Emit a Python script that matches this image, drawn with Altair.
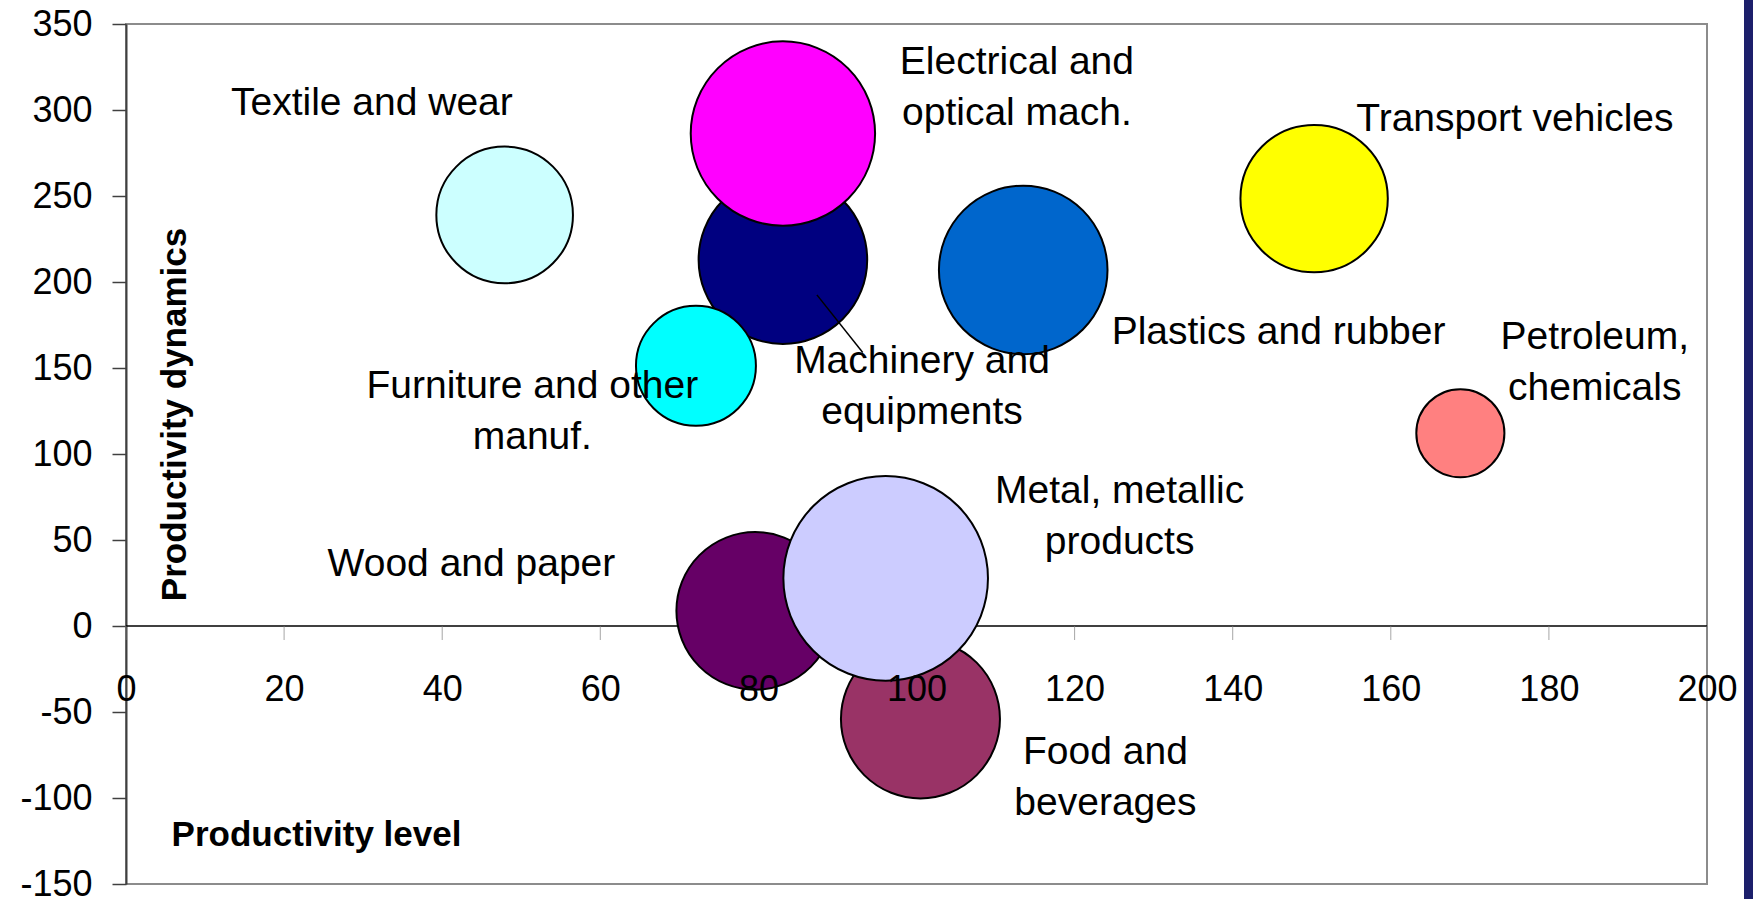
import altair as alt
import pandas as pd

# ---- data ----
sectors = [
    "Machinery and equipments", "Electrical and optical mach.", "Furniture and other manuf.",
    "Textile and wear", "Plastics and rubber", "Transport vehicles", "Petroleum, chemicals",
    "Wood and paper", "Food and beverages", "Metal, metallic products",
]
level = [83.1, 83.1, 72.1, 47.9, 113.5, 150.3, 168.8, 79.6, 100.5, 96.1]
dynamics = [213.0, 286.3, 151.3, 239.0, 207.0, 248.5, 112.1, 8.8, -54.0, 27.7]
bubble = [72.5, 86.7, 36.7, 47.6, 72.5, 55.4, 19.8, 63.4, 64.5, 106.8]
colors = ["#000080", "#FF00FF", "#00FFFF", "#CCFFFF", "#0066CC",
          "#FFFF00", "#FF8080", "#660066", "#993366", "#CCCCFF"]

label_text = [
    "Machinery and\nequipments", "Electrical and\noptical mach.", "Furniture and other\nmanuf.",
    "Textile and wear", "Plastics and rubber", "Transport vehicles", "Petroleum,\nchemicals",
    "Wood and paper", "Food and\nbeverages", "Metal, metallic\nproducts",
]
label_x = [100.7, 112.7, 51.4, 31.1, 145.8, 175.7, 185.8, 43.7, 123.9, 125.7]
label_y = [147.0, 321.0, 132.8, 297.2, 163.8, 287.9, 161.1, 29.1, -80.4, 71.4]

leader_x = [87.4]
leader_y = [192.5]
leader_x2 = [93.2]
leader_y2 = [159.0]

x_ticks = [0, 20, 40, 60, 80, 100, 120, 140, 160, 180, 200]
y_ticks = [-150, -100, -50, 0, 50, 100, 150, 200, 250, 300, 350]
zero_line = [0]

FONT = "Liberation Sans"

bubbles_df = pd.DataFrame({"sector": sectors, "level": level, "dynamics": dynamics,
                           "bubble": bubble, "order": list(range(len(sectors)))})
labels_df = pd.DataFrame({"text": label_text, "level": label_x, "dynamics": label_y})
leader_df = pd.DataFrame({"level": leader_x, "dynamics": leader_y,
                          "level2": leader_x2, "dynamics2": leader_y2})
ticks_df = pd.DataFrame({"level": x_ticks, "dynamics": [zero_line[0]] * len(x_ticks)})
zero_df = pd.DataFrame({"dynamics": zero_line})

xscale = alt.Scale(domain=[0, 200], nice=False, zero=False)
yscale = alt.Scale(domain=[-150, 350], nice=False, zero=False)

xaxis = alt.Axis(
    values=x_ticks, orient="bottom", offset=-258, domain=False, ticks=False, tickSize=0,
    grid=False, labelFont=FONT, labelFontSize=36, labelColor="black", labelPadding=46,
    labelBaseline="top", labelFlush=False, labelOverlap=False,
    labelExpr="'' + datum.value",
    title="Productivity level", titleFont=FONT, titleFontSize=35, titleFontWeight="bold",
    titleColor="black", titleX=190, titleY=219, titleAlign="center",
    titleBaseline="alphabetic", titleAngle=0, zindex=1,
)
yaxis = alt.Axis(
    values=y_ticks, domainColor="#404040", domainWidth=2, tickColor="#404040",
    tickSize=14, tickWidth=1.5, grid=False, labelFont=FONT, labelFontSize=36,
    labelColor="black", labelPadding=20, labelFlush=False, labelOverlap=False,
    labelExpr="'' + datum.value",
    title="Productivity dynamics", titleFont=FONT, titleFontSize=35, titleFontWeight="bold",
    titleColor="black", titleAngle=270, titleX=59, titleY=390, titleAlign="center",
    titleBaseline="alphabetic",
)

def X(field="level"):
    return alt.X(f"{field}:Q", scale=xscale, axis=xaxis)

def Y(field="dynamics"):
    return alt.Y(f"{field}:Q", scale=yscale, axis=yaxis)

zero = alt.Chart(zero_df).mark_rule(color="black", strokeWidth=1.5).encode(y=Y())

ticks = alt.Chart(ticks_df).mark_tick(
    orient="vertical", size=14, thickness=1, yOffset=7, color="#808080"
).encode(x=X(), y=Y())

points = alt.Chart(bubbles_df).mark_point(
    shape="circle", filled=True, opacity=1, stroke="black", strokeWidth=2
).encode(
    x=X(), y=Y(),
    size=alt.Size("bubble:Q", scale=alt.Scale(domain=[0, 100], range=[0, 39200]), legend=None),
    fill=alt.Fill("sector:N", scale=alt.Scale(domain=sectors, range=colors), legend=None),
    order=alt.Order("order:Q"),
)

leader = alt.Chart(leader_df).mark_rule(color="black", strokeWidth=1.5).encode(
    x=X(), y=Y(), x2="level2:Q", y2="dynamics2:Q"
)

labels = alt.Chart(labels_df).mark_text(
    font=FONT, fontSize=39, color="black", align="center", baseline="alphabetic",
    lineBreak="\n", lineHeight=51,
).encode(x=X(), y=Y(), text="text:N")

band = alt.Chart(pd.DataFrame({"a": [0]})).mark_rect(color="#1c1f6b").encode(
    x=alt.value(1618), x2=alt.value(1627), y=alt.value(-24), y2=alt.value(875)
)

chart = alt.layer(zero, ticks, points, leader, labels, band).properties(
    width=1581, height=860,
    autosize=alt.AutoSizeParams(type="none"),
    padding={"left": 126, "top": 24, "right": 46, "bottom": 15},
    background="white",
).configure_view(stroke="#8c8c8c", strokeWidth=2)

chart.save("out.html", embed_options={"renderer": "svg", "actions": False})
